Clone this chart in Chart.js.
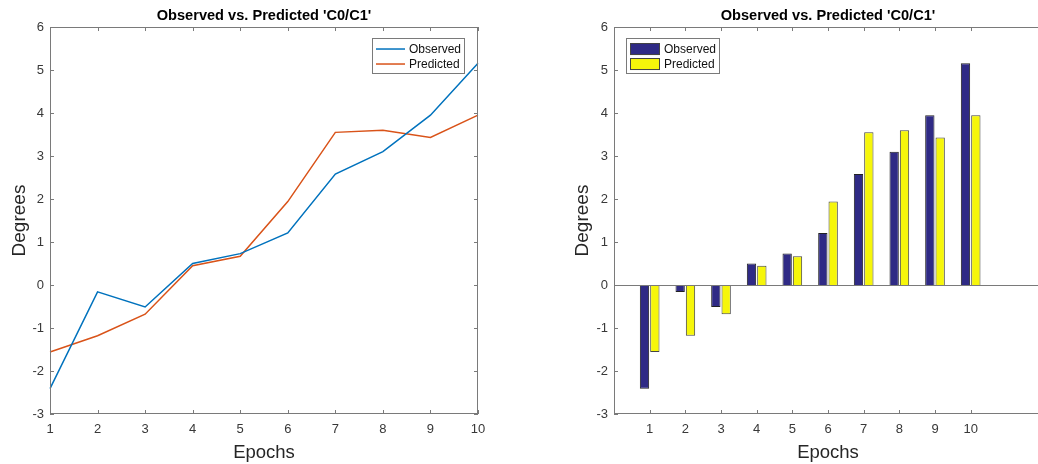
<!DOCTYPE html>
<html>
<head>
<meta charset="utf-8">
<script src="https://cdn.jsdelivr.net/npm/chart.js@4/dist/chart.umd.min.js"></script>
<style>
  html, body { margin: 0; padding: 0; background: #fff; }
  body { width: 1038px; height: 464px; overflow: hidden; position: relative; }
  .box { position: absolute; top: 0; height: 464px; }
  #leftBox { left: 0; width: 540px; }
  #rightBox { left: 560px; width: 482px; }
</style>
</head>
<body>
<div class="box" id="leftBox"><canvas id="chartLine" width="540" height="464"></canvas></div>
<div class="box" id="rightBox"><canvas id="chartBar" width="482" height="464"></canvas></div>
<script>
// data
const epochs = [1, 2, 3, 4, 5, 6, 7, 8, 9, 10];
const observed = [-2.41, -0.16, -0.51, 0.50, 0.73, 1.21, 2.58, 3.10, 3.95, 5.16];
const predicted = [-1.56, -1.18, -0.68, 0.45, 0.67, 1.94, 3.55, 3.60, 3.43, 3.95];
const yTicks = [-3, -2, -1, 0, 1, 2, 3, 4, 5, 6];
const titleText = "Observed vs. Predicted 'C0/C1'";

const FONT = "'Liberation Sans', Arial, Helvetica, sans-serif";
const FRAME = '#7a7a7a';
const TEXT = '#383838';

// matlab-ish box, inward ticks, optional zero line and legend
const matlabAxes = {
    id: 'matlabAxes',
    afterDatasetsDraw(chart, args, opts) {
        const ctx = chart.ctx;
        const a = chart.chartArea;
        const x = chart.scales.x, y = chart.scales.y;
        const len = 4;
        ctx.save();
        ctx.strokeStyle = FRAME;
        ctx.lineWidth = 1;
        ctx.beginPath();
        if (opts.zeroLine) {
            const zy = Math.round(y.getPixelForValue(0)) + 0.5;
            ctx.moveTo(a.left, zy); ctx.lineTo(a.right, zy);
        }
        x.ticks.forEach((t, i) => {
            const px = Math.round(x.getPixelForTick(i)) + 0.5;
            ctx.moveTo(px, a.bottom); ctx.lineTo(px, a.bottom - len);
            ctx.moveTo(px, a.top); ctx.lineTo(px, a.top + len);
        });
        y.ticks.forEach((t, i) => {
            const py = Math.round(y.getPixelForTick(i)) + 0.5;
            ctx.moveTo(a.left, py); ctx.lineTo(a.left + len, py);
            ctx.moveTo(a.right, py); ctx.lineTo(a.right - len, py);
        });
        ctx.stroke();
        ctx.strokeRect(Math.round(a.left) + 0.5, Math.round(a.top) + 0.5,
            Math.round(a.right - a.left) - 1, Math.round(a.bottom - a.top) - 1);

        // legend box
        const lg = opts.legend;
        const bx = lg.fromRight ? a.right - lg.dx - lg.w : a.left + lg.dx;
        const by = a.top + lg.dy;
        ctx.fillStyle = '#fff';
        ctx.fillRect(bx, by, lg.w, lg.h);
        ctx.strokeRect(Math.round(bx) + 0.5, Math.round(by) + 0.5, lg.w, lg.h);
        ctx.font = '12px ' + FONT;
        ctx.textBaseline = 'middle';
        chart.data.datasets.forEach((ds, i) => {
            const cy = by + 11 + i * 15;
            if (lg.kind === 'line') {
                ctx.strokeStyle = ds.borderColor;
                ctx.lineWidth = 1.5;
                ctx.beginPath();
                ctx.moveTo(bx + 4, cy); ctx.lineTo(bx + 33, cy);
                ctx.stroke();
            } else {
                ctx.fillStyle = ds.backgroundColor;
                ctx.fillRect(bx + 4, cy - 6, 30, 12);
                ctx.strokeStyle = '#444';
                ctx.lineWidth = 1;
                ctx.strokeRect(bx + 4.5, cy - 5.5, 29, 11);
            }
            ctx.fillStyle = '#111';
            ctx.fillText(ds.label, bx + (lg.kind === 'line' ? 37 : 38), cy + 1);
        });
        ctx.restore();
    }
};

function yScale(width, titlePad) {
    return {
        type: 'linear', min: -3, max: 6,
        afterBuildTicks: s => { s.ticks = yTicks.map(v => ({ value: v })); },
        afterFit: s => { s.width = width; },
        grid: { display: false, drawTicks: false }, border: { display: false },
        ticks: { color: TEXT, padding: 6, font: { family: FONT, size: 13 } },
        title: { display: true, text: 'Degrees', color: '#262626',
                 padding: { top: titlePad, bottom: 0 }, font: { family: FONT, size: 19, lineHeight: 1.2 } }
    };
}

function xCommon() {
    return {
        afterFit: s => { s.height = 50; },
        grid: { display: false, drawTicks: false, offset: false }, border: { display: false },
        ticks: { color: TEXT, padding: 8, maxRotation: 0, autoSkip: false, font: { family: FONT, size: 13 } },
        title: { display: true, text: 'Epochs', color: '#262626',
                 padding: { top: 0, bottom: 0 }, font: { family: FONT, size: 18.5, lineHeight: 1.2 } }
    };
}

const titleOpts = {
    display: true, text: titleText, color: '#000', fullSize: false,
    font: { family: FONT, size: 14.6, weight: 'bold', lineHeight: 1.2 },
    padding: { top: 7, bottom: 2.5 }
};

// left: lines
const configLine = {
    type: 'line',
    data: {
        labels: epochs,
        datasets: [
            { label: 'Observed', data: observed, borderColor: '#0072BD', borderWidth: 1.5,
              pointRadius: 0, fill: false, tension: 0 },
            { label: 'Predicted', data: predicted, borderColor: '#D95319', borderWidth: 1.5,
              pointRadius: 0, fill: false, tension: 0 }
        ]
    },
    options: {
        responsive: false, animation: false,
        layout: { padding: { left: 0, right: 62, top: 0, bottom: 0 } },
        scales: {
            x: Object.assign(xCommon(), { type: 'category', offset: false }),
            y: yScale(50, 8)
        },
        plugins: {
            legend: { display: false }, tooltip: { enabled: false },
            title: titleOpts,
            matlabAxes: { zeroLine: false,
                legend: { kind: 'line', fromRight: true, dx: 14, dy: 11, w: 92, h: 35 } }
        }
    },
    plugins: [matlabAxes]
};

new Chart(document.getElementById('chartLine'), configLine);

// right: grouped bars
const configBar = {
    type: 'bar',
    data: {
        datasets: [
            { label: 'Observed', data: epochs.map((e, i) => ({ x: e, y: observed[i] })),
              backgroundColor: '#2f2a85', borderColor: '#222', borderWidth: 1 },
            { label: 'Predicted', data: epochs.map((e, i) => ({ x: e, y: predicted[i] })),
              backgroundColor: '#f6f60a', borderColor: '#444', borderWidth: 1 }
        ]
    },
    options: {
        responsive: false, animation: false,
        categoryPercentage: 0.58, barPercentage: 0.9,
        layout: { padding: { left: 0, right: 0, top: 0, bottom: 0 } },
        scales: {
            x: Object.assign(xCommon(), {
                type: 'linear', min: 0, max: 12, offset: false,
                afterBuildTicks: s => { s.ticks = epochs.map(v => ({ value: v })); }
            }),
            y: yScale(54, 11.5)
        },
        plugins: {
            legend: { display: false }, tooltip: { enabled: false },
            title: titleOpts,
            matlabAxes: { zeroLine: true,
                legend: { kind: 'box', fromRight: false, dx: 12, dy: 11, w: 93, h: 35 } }
        }
    },
    plugins: [matlabAxes]
};

new Chart(document.getElementById('chartBar'), configBar);
</script>
</body>
</html>
